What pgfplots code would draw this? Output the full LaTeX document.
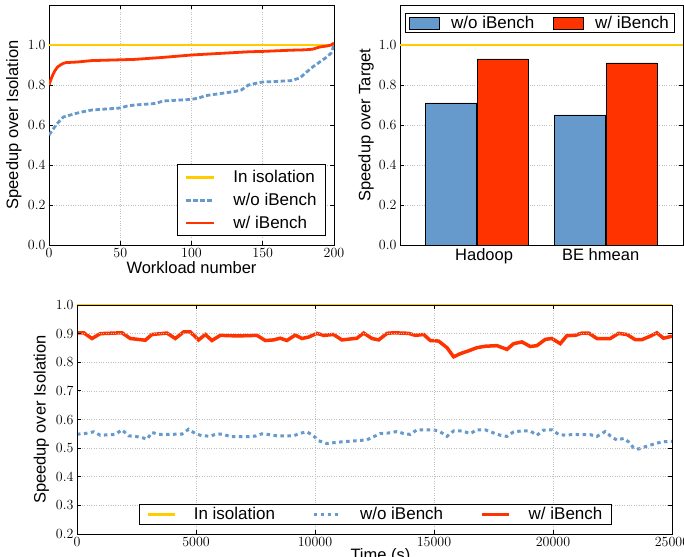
\documentclass[border=0pt]{standalone}
\usepackage{pgfplots}
\pgfplotsset{compat=1.18}
\usepackage{fontspec}
\newfontfamily\hel{Liberation Sans}
\definecolor{cyel}{RGB}{255,204,0}
\definecolor{cred}{RGB}{255,51,0}
\definecolor{cblue}{RGB}{102,153,204}
\pgfplotsset{
  base/.style={
    scale only axis,
    axis line style={black, line width=0.8pt},
    tick align=inside,
    major tick length=4pt,
    every tick/.style={black, line width=0.8pt},
    grid style={dotted, gray!50, line width=0.6pt},
    tick label style={font=\fontsize{14}{16}\selectfont},
    /pgf/number format/assume math mode=true,
    label style={font=\hel\fontsize{16.5}{19}\selectfont},
    legend style={font=\hel\fontsize{17}{20}\selectfont, draw=black, line width=0.8pt,
      nodes={inner sep=2pt, text depth=0.2em}},
    legend cell align=left,
    no markers,
  },
  oneplace/.style={yticklabel style={/pgf/number format/.cd, fixed, fixed zerofill, precision=1}},
}
\begin{document}
\begin{tikzpicture}
\path[use as bounding box] (0pt,0pt) rectangle (684pt,-556pt);

% ---------- top left ----------
\begin{axis}[base, oneplace, at={(49pt,-245pt)}, anchor=south west, width=285pt, height=240pt,
  xmin=0, xmax=200, ymin=0, ymax=1.2,
  xtick={0,50,100,150,200}, ytick={0,0.2,0.4,0.6,0.8,1.0},
  grid=major,
  xlabel={Workload number}, ylabel={Speedup over Isolation},
  xlabel style={at={(axis description cs:0.5,-0.096)}, anchor=center},
  ylabel style={at={(axis description cs:-0.123,0.5)}, anchor=center},
  legend style={at={(0.972,0.0375)}, anchor=south east, inner xsep=7pt, inner ysep=3.5pt, row sep=4.5pt,
    /tikz/every odd column/.append style={column sep=16pt}},
  legend image code/.code={\draw[#1] (0pt,0pt) -- (28pt,0pt);},
]
\addplot[cyel, line width=2.5pt] coordinates {(0,1) (200,1)};
\addlegendentry{In isolation}
\addplot[cblue, line width=2.8pt, dash pattern=on 4.5pt off 2.5pt] coordinates {
(0,0.55) (2,0.57) (5,0.60) (8,0.625) (10,0.64) (15,0.65) (20,0.66) (25,0.668) (30,0.675)
(40,0.68) (50,0.685) (55,0.695) (60,0.70) (70,0.705) (75,0.708) (80,0.72) (90,0.724)
(100,0.728) (105,0.735) (110,0.747) (120,0.757) (130,0.767) (135,0.775) (140,0.80)
(145,0.808) (150,0.815) (160,0.818) (170,0.822) (176,0.835) (180,0.86) (185,0.89)
(190,0.915) (195,0.94) (198,0.96) (200,1.0)};
\addlegendentry{w/o iBench}
\addplot[cred, line width=2.8pt] coordinates {
(0,0.80) (2,0.84) (4,0.87) (6,0.89) (8,0.90) (10,0.908) (12,0.912) (20,0.915) (30,0.922)
(40,0.924) (50,0.926) (60,0.928) (70,0.933) (80,0.938) (90,0.944) (100,0.95) (110,0.954)
(120,0.958) (130,0.962) (140,0.966) (150,0.968) (160,0.971) (170,0.974) (180,0.976)
(185,0.979) (190,0.99) (195,0.995) (198,1.0) (200,1.01)};
\addlegendentry{w/ iBench}
\end{axis}

% ---------- top right ----------
\begin{axis}[base, oneplace, at={(400pt,-245pt)}, anchor=south west, width=283pt, height=240pt,
  xmin=-0.6, xmax=1.6, ymin=0, ymax=1.2,
  ytick={0,0.2,0.4,0.6,0.8,1.0}, ymajorgrids,
  xtick={0.054,0.96}, xticklabels={Hadoop, BE hmean},
  xticklabel style={font=\hel\fontsize{16.5}{19}\selectfont},
  xtick style={draw=none},
  ylabel={Speedup over Target},
  ylabel style={at={(axis description cs:-0.12,0.5)}, anchor=center},
  legend columns=2,
  legend style={at={(0.495,0.967)}, anchor=north, inner xsep=4pt, inner ysep=0.5pt,
    /tikz/every odd column/.append style={column sep=9pt},
    /tikz/every even column/.append style={column sep=17pt}},
]
\addplot[ybar, bar width=51pt, bar shift=-25.8pt, fill=cblue, draw=black, line width=0.8pt,
  legend image code/.code={\draw[fill=cblue, draw=black, line width=0.8pt] (0pt,-6pt) rectangle (30pt,6pt);}]
  coordinates {(0,0.71) (1,0.65)};
\addlegendentry{w/o iBench}
\addplot[ybar, bar width=51pt, bar shift=25.8pt, fill=cred, draw=black, line width=0.8pt,
  legend image code/.code={\draw[fill=cred, draw=black, line width=0.8pt] (0pt,-6pt) rectangle (30pt,6pt);}]
  coordinates {(0,0.93) (1,0.91)};
\addlegendentry{w/ iBench}
\addplot[cyel, line width=2.5pt, forget plot] coordinates {(-0.6,1) (1.6,1)};
\end{axis}

% ---------- bottom ----------
\begin{axis}[base, oneplace, at={(77pt,-534pt)}, anchor=south west, width=595pt, height=229pt,
  xmin=0, xmax=25000, ymin=0.2, ymax=1.0,
  clip=false, axis on top,
  xtick={0,5000,10000,15000,20000,25000},
  ytick={0.2,0.3,0.4,0.5,0.6,0.7,0.8,0.9,1.0},
  scaled x ticks=false,
  xticklabel style={/pgf/number format/1000 sep={}},
  grid=major,
  xlabel={Time (s)}, ylabel={Speedup over Isolation},
  xlabel style={at={(axis description cs:0.51,-0.095)}, anchor=center},
  ylabel style={at={(axis description cs:-0.06,0.5)}, anchor=center},
  legend columns=3,
  legend style={at={(0.104,0.039)}, anchor=south west, inner xsep=7pt, inner ysep=1pt,
    /tikz/every odd column/.append style={column sep=16pt},
    /tikz/every even column/.append style={column sep=35pt}},
  legend image code/.code={\draw[#1] (0pt,0pt) -- (27pt,0pt);},
]
\addplot[cyel, line width=2.5pt] coordinates {(0,1) (25000,1)};
\addlegendentry{In isolation}
\addplot[cblue, line width=3pt, dash pattern=on 3.5pt off 3.5pt] coordinates {
(0,0.549) (280,0.550) (700,0.557) (980,0.545) (1610,0.548) (1890,0.564) (2170,0.543)
(2450,0.541) (2730,0.537) (2940,0.531) (3150,0.555) (3430,0.548) (3780,0.548) (4410,0.549)
(4690,0.566) (4970,0.551) (5250,0.543) (5600,0.542) (5880,0.550) (6160,0.548) (6440,0.540)
(7140,0.540) (7490,0.542) (7770,0.550) (8120,0.547) (8400,0.543) (8750,0.543) (9100,0.543)
(9380,0.552) (9660,0.557) (9940,0.543) (10150,0.526) (10500,0.516) (10780,0.519)
(11130,0.522) (11760,0.526) (12180,0.529) (12465,0.540) (12745,0.551) (13095,0.553)
(13445,0.558) (13725,0.551) (14005,0.548) (14285,0.564) (14635,0.564) (14985,0.564)
(15265,0.557) (15545,0.541) (15825,0.560) (16175,0.560) (16525,0.551) (16805,0.564)
(17155,0.564) (17505,0.553) (17785,0.545) (18065,0.541) (18345,0.557) (18695,0.560)
(19045,0.560) (19325,0.545) (19605,0.563) (19955,0.564) (20235,0.548) (20515,0.545)
(20865,0.548) (21215,0.547) (21565,0.547) (21845,0.541) (22195,0.558) (22405,0.543)
(22685,0.528) (22965,0.534) (23175,0.522) (23385,0.501) (23595,0.497) (23875,0.505)
(24225,0.514) (24575,0.522) (25000,0.524)};
\addlegendentry{w/o iBench}
\addplot[cred, line width=3.5pt] coordinates {
(0,0.903) (280,0.903) (630,0.883) (980,0.900) (1890,0.903) (2240,0.883) (2870,0.877)
(3150,0.897) (3780,0.902) (4130,0.883) (4480,0.906) (4760,0.906) (5110,0.878) (5390,0.897)
(5670,0.876) (6020,0.894) (6720,0.892) (7210,0.893) (7560,0.894) (7910,0.876) (8260,0.878)
(8540,0.884) (8820,0.876) (9170,0.895) (9450,0.883) (9730,0.888) (10080,0.901) (10360,0.894)
(10780,0.897) (11130,0.878) (11760,0.884) (12045,0.902) (12395,0.883) (12675,0.878)
(13025,0.901) (13305,0.903) (13935,0.901) (14215,0.894) (14565,0.897) (14845,0.876)
(15195,0.874) (15545,0.851) (15825,0.819) (16105,0.830) (16455,0.840) (16805,0.851)
(17155,0.856) (17645,0.858) (18065,0.845) (18345,0.865) (18695,0.871) (19045,0.855)
(19325,0.858) (19675,0.880) (19955,0.883) (20305,0.865) (20585,0.893) (20935,0.894)
(21215,0.902) (21495,0.902) (21845,0.883) (22405,0.883) (22755,0.901) (23105,0.897)
(23455,0.879) (23735,0.879) (24085,0.891) (24365,0.903) (24645,0.884) (25000,0.891)};
\addlegendentry{w/ iBench}
\end{axis}
\end{tikzpicture}
\end{document}
